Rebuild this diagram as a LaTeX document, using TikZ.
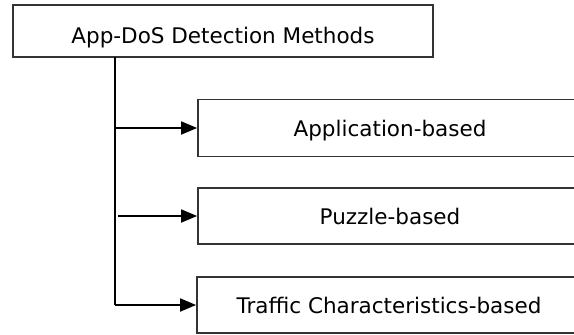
\documentclass[tikz,border=0pt]{standalone}
\usepackage{fontspec}
\setmainfont{DejaVu Sans}
\usetikzlibrary{arrows.meta, positioning, calc}

\tikzset{
    methodbox/.style={draw=black!80, line width=1.8pt, rectangle, text depth=0pt, text height=17pt, font=\fontsize{21.5}{24}\selectfont},
    branch/.style={draw=black, line width=1.8pt, -{Triangle[length=16pt,width=13pt]}}
}

\begin{document}
\begin{tikzpicture}[x=1pt, y=-1pt]
        % page frame of the picture
        \useasboundingbox (0,0) rectangle (574,335);

        % root box
        \node[methodbox, text height=24pt, minimum width=420pt, minimum height=52pt] (root) at (223,31) {App-DoS Detection Methods};

        % the three kinds of methods
        \node[methodbox, minimum width=384pt, minimum height=57pt] (appl) at (390,128) {Application-based};
        \node[methodbox, minimum width=384pt, minimum height=56pt] (puzzle) at (390,216) {Puzzle-based};
        \node[methodbox, minimum width=384pt, minimum height=56pt] (traffic) at (389,305) {Traffic Characteristics-based};

        % trunk going down from the root
        \coordinate (trunk) at (115,57);
        \coordinate (gap) at (118,0);
        \draw[line width=1.8pt] (trunk) -- (trunk |- traffic.west);

        % arrows into the boxes
        \draw[branch] (trunk |- appl.west) -- (appl.west);
        \draw[branch] (gap |- puzzle.west) -- (puzzle.west);
        \draw[branch] (trunk |- traffic.west) -- (traffic.west);
    \end{tikzpicture}
\end{document}
